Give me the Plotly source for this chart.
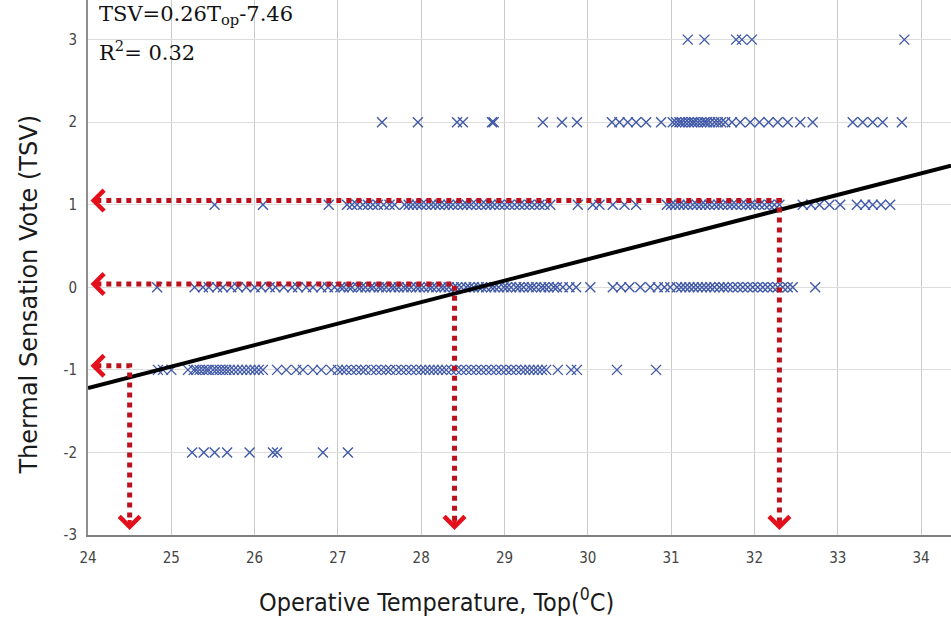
import plotly.graph_objects as go

# Thermal sensation votes (TSV) against operative temperature (deg C)
temp_vote_3 = [31.2, 31.4, 31.78, 31.85, 31.97, 33.8]
temp_vote_2 = [27.53, 27.96, 28.43, 28.5, 28.85, 28.87, 29.46, 29.69, 29.87,
               30.29, 30.38, 30.48, 30.58, 30.7, 30.88,
               31.02, 31.06, 31.1, 31.13, 31.17, 31.21, 31.25, 31.28, 31.32,
               31.36, 31.4, 31.43, 31.47, 31.52, 31.56, 31.6, 31.65,
               31.73, 31.83, 31.95, 32.06, 32.17, 32.28, 32.4, 32.55, 32.7,
               33.18, 33.3, 33.42, 33.54, 33.77]
temp_vote_1 = [25.52, 26.1, 26.89,
               27.11, 27.17, 27.23, 27.3, 27.36, 27.42, 27.48, 27.55, 27.62, 27.68,
               27.8, 27.85, 27.9, 27.95, 28.0, 28.06, 28.12, 28.17, 28.22, 28.28,
               28.33, 28.38, 28.44, 28.5, 28.55, 28.6, 28.66, 28.72, 28.78, 28.83,
               28.88, 28.94, 29.0, 29.06, 29.12, 29.18, 29.24, 29.3, 29.36, 29.42,
               29.48, 29.55,
               29.88, 30.06, 30.14, 30.3, 30.44, 30.58,
               30.95, 31.0, 31.05, 31.1, 31.15, 31.2, 31.26, 31.31, 31.36, 31.41,
               31.46, 31.52, 31.57, 31.62, 31.68, 31.73, 31.78, 31.84, 31.9, 31.95,
               32.0, 32.06, 32.12, 32.18, 32.24, 32.3,
               32.58, 32.68, 32.78, 32.9, 33.03, 33.23, 33.33, 33.42, 33.52, 33.63]
temp_vote_0 = [24.83,
               25.28, 25.38, 25.45, 25.55, 25.62, 25.72, 25.8, 25.9, 26.0, 26.08,
               26.18, 26.25, 26.35, 26.45, 26.52, 26.62, 26.7, 26.8, 26.88, 26.96,
               27.03, 27.07, 27.13, 27.17, 27.24, 27.28, 27.33, 27.39, 27.43, 27.49,
               27.53, 27.58, 27.64, 27.68, 27.73, 27.79, 27.83, 27.88, 27.94, 27.98,
               28.03, 28.09, 28.13, 28.18, 28.24, 28.28, 28.33, 28.39, 28.43, 28.48,
               28.54, 28.58, 28.63, 28.69, 28.73, 28.78, 28.84, 28.88, 28.93, 28.99,
               29.03, 29.08, 29.14, 29.18, 29.23, 29.29, 29.33, 29.38, 29.44, 29.48,
               29.53, 29.59, 29.63, 29.7, 29.78, 29.86,
               30.03, 30.3, 30.4, 30.5, 30.63, 30.75, 30.84, 30.92, 30.99,
               31.07, 31.12, 31.17, 31.22, 31.27, 31.32, 31.37, 31.42, 31.47, 31.52,
               31.58, 31.63, 31.68, 31.74, 31.8, 31.86, 31.92, 31.98, 32.04, 32.1,
               32.16, 32.22, 32.28, 32.34, 32.4, 32.46, 32.73]
temp_vote_m1 = [24.84, 24.9, 25.0, 25.2,
                25.27, 25.3, 25.34, 25.38, 25.42, 25.45, 25.5, 25.54, 25.58, 25.62,
                25.66, 25.7, 25.75, 25.8, 25.85, 25.9, 25.95, 26.0, 26.05, 26.1,
                26.27, 26.38, 26.5, 26.58, 26.7, 26.8, 26.92,
                27.0, 27.05, 27.1, 27.16, 27.22, 27.28, 27.33, 27.4, 27.46, 27.52,
                27.58, 27.63, 27.7, 27.76, 27.82, 27.88, 27.94, 28.0, 28.05, 28.1,
                28.15, 28.2, 28.25, 28.3, 28.36, 28.42, 28.48, 28.54, 28.6, 28.66,
                28.72, 28.78, 28.84, 28.9, 28.96, 29.02, 29.08, 29.14, 29.2, 29.25,
                29.3, 29.35, 29.4, 29.45, 29.5,
                29.64, 29.8, 29.87, 30.35, 30.82]
temp_vote_m2 = [25.25, 25.39, 25.52, 25.67, 25.94, 26.22, 26.27, 26.82, 27.12]

vote_levels = [3, 2, 1, 0, -1, -2]
temps_by_vote = [temp_vote_3, temp_vote_2, temp_vote_1, temp_vote_0,
                 temp_vote_m1, temp_vote_m2]

# Linear fit TSV = slope * Top + intercept
fit_slope = 0.26
fit_intercept = -7.46

# Reading guides: (temperature, vote) pairs traced back to the axes
guide_temps = [24.5, 28.4, 32.3]
guide_votes = [-0.95, 0.04, 1.05]

x_range = [24, 34.36]
y_range = [-3, 3.48]
x_ticks = [24, 25, 26, 27, 28, 29, 30, 31, 32, 33, 34]
y_ticks = [-3, -2, -1, 0, 1, 2, 3]

marker_color = "#4059a8"
guide_color = "#bb121d"
head_color = "#e3101c"

fig = go.Figure()

xs, ys = [], []
for v, temps in zip(vote_levels, temps_by_vote):
    xs.extend(temps)
    ys.extend([v] * len(temps))

# open symbols are stroked with marker.color
fig.add_trace(go.Scatter(
    x=xs, y=ys, mode="markers",
    marker=dict(symbol="x-thin-open", size=10, color=marker_color,
                line=dict(width=1.4, color=marker_color)),
    hoverinfo="x+y", showlegend=False))

# fitted line across the whole axis range
fig.add_trace(go.Scatter(
    x=x_range,
    y=[fit_slope * t + fit_intercept for t in x_range],
    mode="lines", line=dict(color="black", width=4),
    hoverinfo="skip", showlegend=False))

# dotted guide lines: from the axis to the point, then down to the x axis
for t, v in zip(guide_temps, guide_votes):
    fig.add_trace(go.Scatter(
        x=[x_range[0] + 0.1, t, t],
        y=[v, v, y_range[0] + 0.13],
        mode="lines", line=dict(color=guide_color, width=5, dash="dot"),
        hoverinfo="skip", showlegend=False))

annotations = []
for t, v in zip(guide_temps, guide_votes):
    # arrow heads pointing at the y axis and down to the x axis
    annotations.append(dict(
        x=x_range[0] + 0.03, y=v, ax=x_range[0] + 0.16, ay=v,
        xref="x", yref="y", axref="x", ayref="y", text="",
        showarrow=True, arrowhead=4, arrowsize=1, arrowwidth=4,
        arrowcolor=head_color))
    annotations.append(dict(
        x=t, y=y_range[0] + 0.06, ax=t, ay=y_range[0] + 0.2,
        xref="x", yref="y", axref="x", ayref="y", text="",
        showarrow=True, arrowhead=4, arrowsize=1, arrowwidth=4,
        arrowcolor=head_color))

eq_font = dict(family="DejaVu Serif, Liberation Serif, serif", size=21,
               color="#111111")
annotations.append(dict(
    x=0.011, y=1.0, xref="paper", yref="paper", xanchor="left", yanchor="top",
    text="TSV=0.26T<sub>op</sub>-7.46", showarrow=False, font=eq_font))
annotations.append(dict(
    x=0.011, y=0.935, xref="paper", yref="paper", xanchor="left", yanchor="top",
    text="R<sup>2</sup>= 0.32", showarrow=False, font=eq_font))

# axis titles
annotations.append(dict(
    x=0.404, y=-0.122, xref="paper", yref="paper",
    xanchor="center", yanchor="middle", showarrow=False,
    text="Operative Temperature, Top(<sup>0</sup>C)",
    font=dict(family="DejaVu Sans Condensed, Liberation Sans Narrow, sans-serif",
              size=25, color="#1a1a1a")))
annotations.append(dict(
    x=-0.068, y=0.45, xref="paper", yref="paper",
    xanchor="center", yanchor="middle", showarrow=False, textangle=-90,
    text="Thermal Sensation Vote (TSV)",
    font=dict(family="DejaVu Sans, Verdana, sans-serif",
              size=24, color="#1a1a1a")))

tick_font = dict(family="DejaVu Sans Condensed, Liberation Sans Narrow, sans-serif",
                 size=15, color="#444444")

fig.update_layout(
    width=951, height=617,
    margin=dict(l=88, r=0, t=0, b=82),
    paper_bgcolor="white", plot_bgcolor="white",
    annotations=annotations,
    xaxis=dict(
        range=x_range, tickvals=x_ticks, ticktext=[str(t) for t in x_ticks],
        showgrid=True, gridcolor="#cbcbcb", gridwidth=1,
        zeroline=False, showline=True, linecolor="#7f7f7f", linewidth=2,
        ticks="", tickfont=tick_font, ticklabelstandoff=8),
    yaxis=dict(
        range=y_range, tickvals=y_ticks, ticktext=[str(t) for t in y_ticks],
        showgrid=True, gridcolor="#dddddd", gridwidth=1,
        zeroline=False, showline=True, linecolor="#8f8f8f", linewidth=2,
        ticks="", tickfont=tick_font, ticklabelstandoff=6),
)

fig.write_html("out.html")
